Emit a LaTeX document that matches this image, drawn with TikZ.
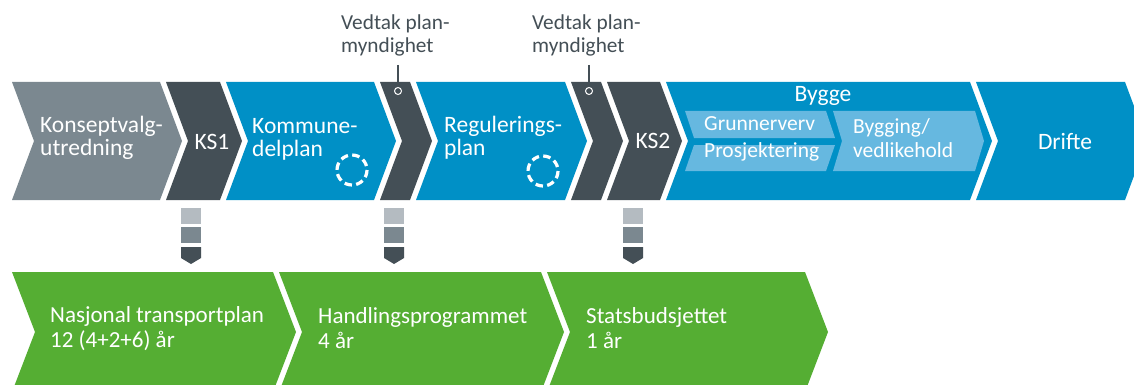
\documentclass[tikz,border=0pt]{standalone}
\usepackage{fontspec}
\setmainfont{Carlito}
\definecolor{cgrey}{HTML}{7B8890}
\definecolor{cdark}{HTML}{444F56}
\definecolor{cblue}{HTML}{0090C6}
\definecolor{clight}{HTML}{66B8E0}
\definecolor{cgreen}{HTML}{55AE33}
\definecolor{csq}{HTML}{B4BBC1}
% colour, xL, xR, ytop, ybot, depth
\newcommand\chevshape[6]{%
  \fill[#1] (#2,#4) -- (#3,#4) -- ({#3+#6},{(#4+#5)/2}) -- (#3,#5) -- (#2,#5) -- ({#2+#6},{(#4+#5)/2}) -- cycle;}
% centre x of a marker stack
\newcommand\markstack[1]{%
  \fill[csq] ({#1-10},208) rectangle ({#1+10},224);
  \fill[cgrey] ({#1-10},227) rectangle ({#1+10},243);
  \fill[cdark] ({#1-10},247) -- ({#1+10},247) -- ({#1+10},258) -- (#1,264) -- ({#1-10},258) -- cycle;}
\begin{document}
\begin{tikzpicture}[x=1pt,y=-1pt,
  lbl/.style={inner sep=0, anchor=base west, align=left, text=white,
    font=\fontsize{23.5}{23}\selectfont},
  lblc/.style={lbl, anchor=base, align=center},
  sublbl/.style={lbl, font=\fontsize{21.5}{24}\selectfont},
  grnlbl/.style={lbl, font=\fontsize{23}{24.5}\selectfont},
  vedlbl/.style={inner sep=0, anchor=base west, align=left, text=cdark,
    font=\fontsize{21.3}{23}\selectfont},
  vline/.style={draw=cdark, line width=1.3pt},
  vdot/.style={circle, draw=white, fill=cdark, line width=1pt, inner sep=0, minimum size=7pt},
  dcirc/.style={draw=white, line width=3.2pt, dash pattern=on 7.5pt off 4.3pt}]
\useasboundingbox (0,0) rectangle (1134,385);
\clip (0,0) rectangle (1134,385);
\fill[white] (0,0) rectangle (1134,385);

% top row
\chevshape{cgrey}{12}{160}{82}{200}{22}
\chevshape{cdark}{166}{220}{82}{200}{22}
\chevshape{cblue}{226}{374}{82}{200}{22}
\chevshape{cdark}{380}{410}{82}{200}{22}
\chevshape{cblue}{416}{565}{82}{200}{22}
\chevshape{cdark}{571}{601}{82}{200}{22}
\chevshape{cdark}{607}{660}{82}{200}{22}
\chevshape{cblue}{666}{970}{82}{200}{22}
\chevshape{cblue}{976}{1125}{82}{200}{22}

% sub-phases in Bygge
\fill[clight] (685,111) -- (826,111) -- (835,138) -- (694,138) -- cycle;
\fill[clight] (694,145) -- (835,145) -- (826,171) -- (685,171) -- cycle;
\chevshape{clight}{833}{975}{111}{171}{9}

% bottom row
\chevshape{cgreen}{12}{273}{272}{392}{23}
\chevshape{cgreen}{279}{541}{272}{392}{23}
\chevshape{cgreen}{547}{805}{272}{392}{23}

% markers
\markstack{191}
\markstack{394}
\markstack{633}

% dashed circles
\draw[dcirc] (352,170) circle (15);
\draw[dcirc] (543,171) circle (15);

% labels top row (base = last line)
\node[lbl] (konsept) at (40,155) {Konseptvalg-\\utredning};
\node[lblc] (ks1) at (212,149) {KS1};
\node[lbl] (kdp) at (252,156) {Kommune-\\delplan};
\node[lbl] (reg) at (444,155) {Regulerings-\\plan};
\node[lblc] (ks2) at (653,148) {KS2};
\node[lblc] (bygge) at (823,102) {Bygge};
\node[sublbl] (grunn) at (704,130) {Grunnerverv};
\node[sublbl] (prosj) at (704,157) {Prosjektering};
\node[sublbl] (bygging) at (853,157) {Bygging/\\vedlikehold};
\node[lblc] (drifte) at (1065,149) {Drifte};

% Vedtak labels
\node[vedlbl] (ved1) at (341,53) {Vedtak plan-\\myndighet};
\node[vedlbl] (ved2) at (532,53) {Vedtak plan-\\myndighet};
\coordinate (v1top) at (398,65);
\coordinate (v1) at (398,91);
\coordinate (v2top) at (589,65);
\coordinate (v2) at (589,91);
\draw[vline] (v1top) -- (v1);
\draw[vline] (v2top) -- (v2);
\node[vdot] at (v1) {};
\node[vdot] at (v2) {};

% labels bottom row
\node[grnlbl] (ntp) at (50,347) {Nasjonal transportplan\\12 (4+2+6) år};
\node[grnlbl] (hp) at (318,348) {Handlingsprogrammet\\4 år};
\node[grnlbl] (sb) at (586,348) {Statsbudsjettet\\1 år};
\end{tikzpicture}
\end{document}
